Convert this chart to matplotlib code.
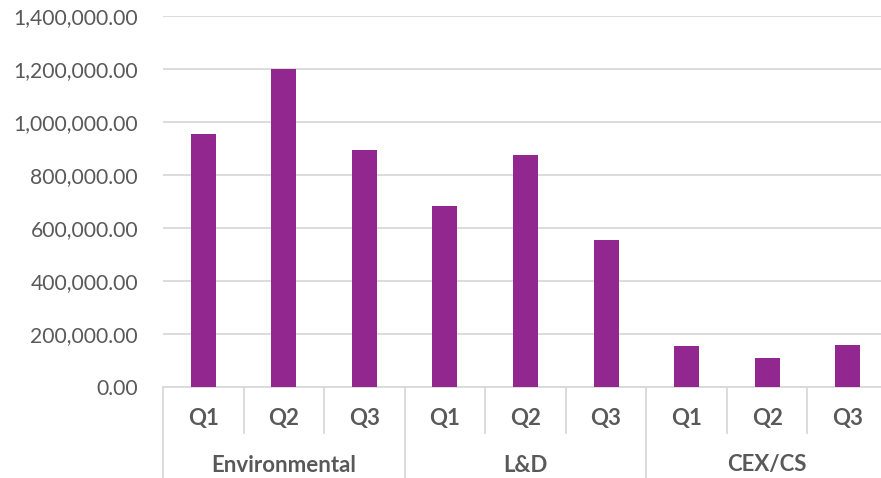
import matplotlib
matplotlib.use("Agg")
import matplotlib.pyplot as plt
from matplotlib.ticker import FuncFormatter
import matplotlib.transforms as mtransforms

groups = ["Environmental", "L&D", "CEX/CS"]
quarters = ["Q1", "Q2", "Q3"]
values = [
    955000, 1200000, 895000,   # Environmental
    681000, 873000, 554000,    # L&D
    156000, 109000, 157000,    # CEX/CS
]
y_ticks = [0, 200000, 400000, 600000, 800000, 1000000, 1200000, 1400000]

BAR_COLOR = "#92278f"
GRID_COLOR = "#d9d9d9"
TEXT_COLOR = "#595959"
FONT = ["Lato", "DejaVu Sans"]

W, H = 881, 478
fig = plt.figure(figsize=(W / 100, H / 100), dpi=100)
left, right = 163 / W, 888 / W
bottom, top = (H - 387) / H, (H - 15.7) / H
ax = fig.add_axes([left, bottom, right - left, top - bottom])

n = len(values)
xs = [i + 0.5 for i in range(n)]
ax.bar(xs, values, width=0.31, color=BAR_COLOR, zorder=3)

ax.set_xlim(0, n)
ax.set_ylim(0, 1400000)
ax.set_yticks(y_ticks)
ax.yaxis.set_major_formatter(FuncFormatter(lambda v, p: f"{v:,.2f}"))
ax.grid(axis="y", color=GRID_COLOR, linewidth=1.3, zorder=0)
ax.tick_params(axis="y", length=0, pad=18, labelsize=15.2, labelcolor=TEXT_COLOR)
for lab in ax.get_yticklabels():
    lab.set_fontfamily(FONT)
ax.set_xticks([])
for s in ["top", "right", "left"]:
    ax.spines[s].set_visible(False)
ax.spines["bottom"].set_color(GRID_COLOR)
ax.spines["bottom"].set_linewidth(1.3)

# Two-level category axis drawn below the plot area
trans = mtransforms.blended_transform_factory(ax.transData, fig.transFigure)
y0 = (H - 387) / H
y_q = (H - 433) / H
y_g = 0.0
for i in range(n + 1):
    y_end = y_g if i % 3 == 0 else y_q
    ax.plot([i, i], [y0, y_end], transform=trans, color=GRID_COLOR,
            linewidth=1.3, clip_on=False)
for i, x in enumerate(xs):
    ax.text(x, (H - 418) / H, quarters[i % 3], transform=trans,
            ha="center", va="center", fontsize=16, fontweight="bold",
            color=TEXT_COLOR, family=FONT)
for g, name in enumerate(groups):
    ax.text(g * 3 + 1.5, (H - 465) / H, name, transform=trans,
            ha="center", va="center", fontsize=16, fontweight="bold",
            color=TEXT_COLOR, family=FONT)

fig.savefig("out.png", dpi=100)
